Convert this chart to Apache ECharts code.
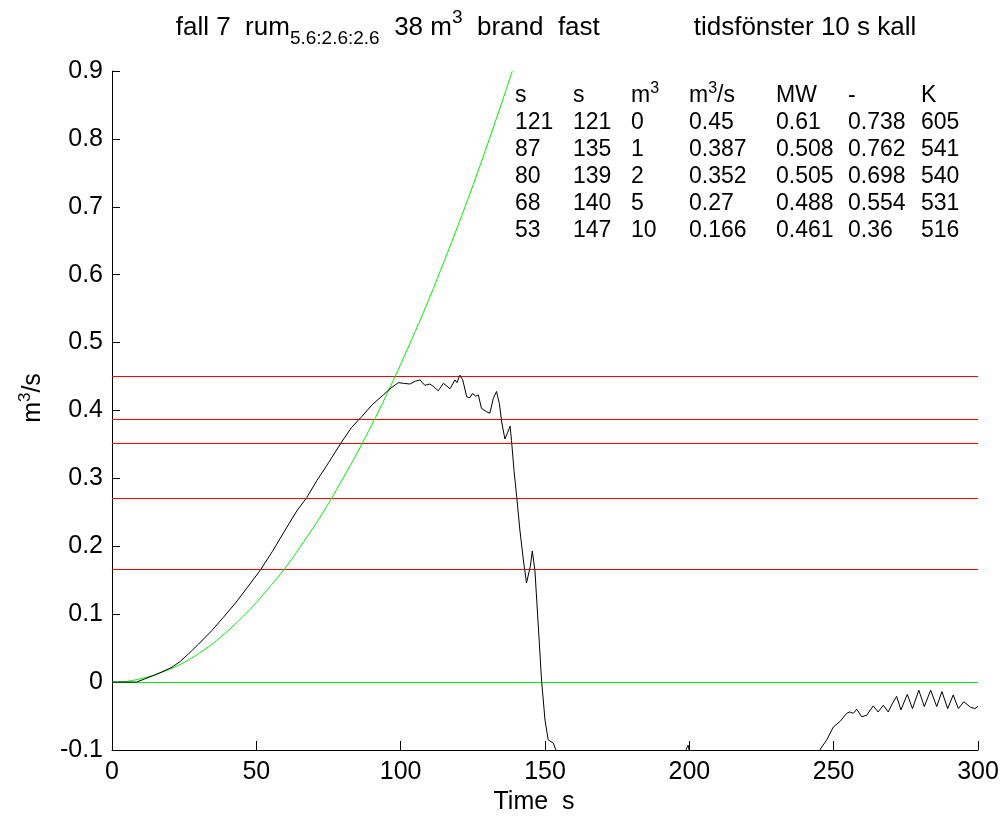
<!DOCTYPE html>
<html>
<head>
<meta charset="utf-8">
<script src="https://cdn.jsdelivr.net/npm/echarts@6/dist/echarts.min.js"></script>
<style>html,body{margin:0;padding:0;background:#fff;}#c{width:1005px;height:821px;}</style>
</head>
<body>
<div id="c"></div>
<script>
// ---- data ----
const xTicks = [0, 50, 100, 150, 200, 250, 300];
const yTicks = [-0.1, 0, 0.1, 0.2, 0.3, 0.4, 0.5, 0.6, 0.7, 0.8, 0.9];

// green reference curve (fast fire growth)
const greenT = [0, 5, 10, 15, 20, 25, 30, 35, 40, 45, 50, 55, 60, 65, 70, 75, 80, 85, 90, 95, 100, 105, 110, 115, 120, 125, 130, 135, 138.7];
const greenV = [0, 0.001, 0.005, 0.011, 0.019, 0.029, 0.042, 0.057, 0.075, 0.095, 0.117, 0.142, 0.168, 0.198, 0.229, 0.263, 0.300, 0.338, 0.379, 0.422, 0.468, 0.516, 0.566, 0.619, 0.674, 0.731, 0.791, 0.853, 0.900];

// measured curve (black)
const blackT = [0, 5, 8.5, 11.5, 14, 17.3, 20.8, 23.5, 26.6, 30, 34.6, 38.5, 42.7, 47, 51.4, 55.5, 60, 64, 67.5, 71, 75, 79.6, 83, 86.5, 90, 94, 96.3, 99.2, 101, 103.2, 105, 106.7, 108.4, 110.1, 111.5, 113, 114.8, 116, 117.1, 118.8, 119.5, 120.5, 121.5, 122.9, 124, 124.9, 126, 126.9, 128, 129.8, 130.9, 132.1, 133.2, 134.2, 135, 136.1, 137.1, 137.9, 138.4, 139.3, 140.2, 141.3, 142.5, 143.6, 144.2, 144.9, 145.6, 146.5, 147.7, 148.8, 150, 151.1, 152.9, 154, 156, 198, 199, 199.6, 200.2, 201, 244, 245.2, 247.6, 249.9, 252.2, 254.5, 255.6, 256.8, 258, 259.7, 261.4, 263.7, 265.4, 267.2, 268.9, 270.4, 271.8, 273.3, 275.5, 277.3, 279.5, 281.4, 283.6, 285.7, 287.5, 289.5, 291.4, 293.2, 295.1, 297.4, 298.9, 300];
const blackV = [0, 0, 0.000, 0.005, 0.009, 0.015, 0.022, 0.030, 0.042, 0.056, 0.076, 0.095, 0.116, 0.140, 0.165, 0.192, 0.224, 0.252, 0.272, 0.297, 0.323, 0.354, 0.375, 0.391, 0.408, 0.423, 0.432, 0.441, 0.440, 0.439, 0.443, 0.445, 0.437, 0.439, 0.435, 0.429, 0.440, 0.436, 0.432, 0.445, 0.441, 0.452, 0.445, 0.420, 0.419, 0.425, 0.421, 0.423, 0.403, 0.398, 0.396, 0.418, 0.428, 0.410, 0.383, 0.358, 0.368, 0.377, 0.356, 0.310, 0.273, 0.224, 0.180, 0.146, 0.148, 0.170, 0.193, 0.165, 0.081, 0.003, -0.056, -0.085, -0.090, -0.103, -0.13, -0.13, -0.098, -0.093, -0.106, -0.13, -0.12, -0.100, -0.085, -0.066, -0.058, -0.046, -0.044, -0.046, -0.040, -0.051, -0.049, -0.035, -0.044, -0.034, -0.044, -0.031, -0.021, -0.041, -0.018, -0.039, -0.012, -0.036, -0.012, -0.036, -0.014, -0.039, -0.019, -0.039, -0.029, -0.037, -0.039, -0.036];

// table
const tableHeader = ['s', 's', 'm3', 'm3/s', 'MW', '-', 'K'];
const colT1 = [121, 87, 80, 68, 53];
const colT2 = [121, 135, 139, 140, 147];
const colVol = [0, 1, 2, 5, 10];
const colFlow = [0.45, 0.387, 0.352, 0.27, 0.166];
const colMW = [0.61, 0.508, 0.505, 0.488, 0.461];
const colDash = [0.738, 0.762, 0.698, 0.554, 0.36];
const colK = [605, 541, 540, 531, 516];
const zeroLevel = [0];

// ---- layout ----
const FONT = "'Liberation Sans', Arial, Helvetica, sans-serif";
const colX = [515, 573, 631, 689, 776, 848, 921];
const rowY = [96, 122.5, 149.5, 176.5, 203.5, 230.5];
const TFS = 23;   // table font
const LFS = 25;   // tick labels / axis names
const HFS = 26;   // title
const RED = '#ff0000';
const GREEN = '#00ee00';

const zip = (a, b) => a.map((v, i) => [v, b[i]]);
const supRich = (fs, lh) => ({
  n: { fontSize: fs, fontFamily: FONT, color: '#000', lineHeight: lh, verticalAlign: 'middle' },
  p: { fontSize: Math.round(fs * 0.68), fontFamily: FONT, color: '#000', lineHeight: lh, verticalAlign: 'top' },
  b: { fontSize: Math.round(fs * 0.68), fontFamily: FONT, color: '#000', lineHeight: lh, verticalAlign: 'bottom' }
});

const graphics = [];
const cols = [colT1, colT2, colVol, colFlow, colMW, colDash, colK];
tableHeader.forEach((h, j) => {
  const txt = h.startsWith('m3') ? '{n|m}{p|3}' + (h.length > 2 ? '{n|' + h.slice(2) + '}' : '') : '{n|' + h + '}';
  graphics.push({ type: 'text', x: colX[j], y: rowY[0], silent: true,
    style: { text: txt, rich: supRich(TFS, 30), align: 'left', verticalAlign: 'middle', fill: '#000' } });
});
cols.forEach((col, j) => {
  col.forEach((v, i) => {
    graphics.push({ type: 'text', x: colX[j], y: rowY[i + 1], silent: true,
      style: { text: String(v), font: TFS + 'px ' + FONT, fill: '#000', align: 'left', verticalAlign: 'middle' } });
  });
});
// title
graphics.push({ type: 'text', x: 546, y: 28, silent: true,
  style: { text: '{n|fall 7  rum}{b|5.6:2.6:2.6}{n|  38 m}{p|3}{n|  brand  fast             tidsfönster 10 s kall}',
    rich: {
      n: { fontSize: HFS, fontFamily: FONT, color: '#000', lineHeight: 40, verticalAlign: 'middle' },
      p: { fontSize: 19, fontFamily: FONT, color: '#000', lineHeight: 40, verticalAlign: 'top' },
      b: { fontSize: 19, fontFamily: FONT, color: '#000', lineHeight: 40, verticalAlign: 'bottom' }
    }, align: 'center', verticalAlign: 'middle' } });
// y axis name
graphics.push({ type: 'text', x: 33, y: 398, rotation: Math.PI / 2, silent: true,
  style: { text: '{n|m}{p|3}{n|/s}', rich: supRich(LFS, 32), align: 'center', verticalAlign: 'middle' } });

// horizontal level line across the full x range, snapped to a pixel row
const levelRenderer = (color) => (params, api) => {
  const v = api.value(1);
  const p1 = api.coord([xTicks[0], v]);
  const p2 = api.coord([xTicks[xTicks.length - 1], v]);
  const y = Math.floor(p1[1]) + 0.5;
  return { type: 'line', silent: true,
    shape: { x1: p1[0], y1: y, x2: p2[0], y2: y },
    style: { stroke: color, lineWidth: 1, fill: null } };
};

const chart = echarts.init(document.getElementById('c'), null, { renderer: 'canvas' });
chart.setOption({
  animation: false,
  backgroundColor: '#fff',
  grid: { left: 112, right: 27, top: 71, bottom: 71 },
  xAxis: {
    type: 'value', min: xTicks[0], max: xTicks[xTicks.length - 1], interval: 50,
    name: 'Time  s', nameLocation: 'middle', nameGap: 40,
    nameTextStyle: { fontSize: LFS, fontFamily: FONT, color: '#000', padding: [0, 22, 0, 0] },
    axisLine: { show: true, onZero: false, lineStyle: { color: '#000', width: 1 } },
    axisTick: { show: true, inside: true, length: 9, lineStyle: { color: '#000' } },
    axisLabel: { fontSize: LFS, fontFamily: FONT, color: '#000', margin: 10 },
    splitLine: { show: false }
  },
  yAxis: {
    type: 'value', min: yTicks[0], max: yTicks[yTicks.length - 1], interval: 0.1,
    axisLine: { show: true, onZero: false, lineStyle: { color: '#000', width: 1 } },
    axisTick: { show: true, inside: true, length: 8, lineStyle: { color: '#000' } },
    axisLabel: { fontSize: LFS, fontFamily: FONT, color: '#000', margin: 9,
      formatter: (v) => { const r = Math.round(v * 10) / 10; return r === 0 ? '0' : String(r); } },
    splitLine: { show: false }
  },
  graphic: graphics,
  series: [
    { type: 'custom', silent: true, renderItem: levelRenderer(RED),
      data: colFlow.map(v => [xTicks[0], v]), z: 1 },
    { type: 'custom', silent: true, renderItem: levelRenderer(GREEN),
      data: zeroLevel.map(v => [xTicks[0], v]), z: 1 },
    { type: 'line', data: zip(greenT, greenV), showSymbol: false, smooth: 0.3, clip: true, silent: true,
      lineStyle: { color: GREEN, width: 1 }, z: 2 },
    { type: 'line', data: zip(blackT, blackV), showSymbol: false, clip: true, silent: true,
      lineStyle: { color: '#000', width: 1 }, z: 3 }
  ]
});
</script>
</body>
</html>
